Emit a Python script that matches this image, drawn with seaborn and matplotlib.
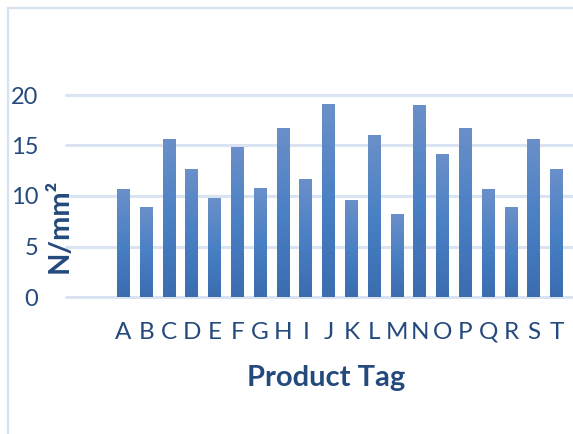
import numpy as np
import matplotlib
matplotlib.use("Agg")
import matplotlib.pyplot as plt
from matplotlib.colors import LinearSegmentedColormap
from matplotlib.patches import Rectangle
import seaborn as sns
import pandas as pd

# Strength per product tag
tags = ["A", "B", "C", "D", "E", "F", "G", "H", "I", "J",
        "K", "L", "M", "N", "O", "P", "Q", "R", "S", "T"]
strength = [10.7, 8.9, 15.6, 12.7, 9.8, 14.9, 10.8, 16.7, 11.7, 19.1,
            9.6, 16.0, 8.2, 19.0, 14.2, 16.7, 10.7, 8.9, 15.6, 12.7]
y_ticks = [0, 5, 10, 15, 20]

TEXT = "#24497c"
GRID = "#d9e3f2"

sns.set_theme(style="white")
plt.rcParams["font.family"] = ["Lato", "DejaVu Sans"]

W, H = 573, 434
fig = plt.figure(figsize=(W / 100, H / 100), dpi=100)

# plot area in pixel terms: left 66, right 573, top 95, bottom 297
ax = fig.add_axes([66 / W, 1 - 297 / H, (W - 66) / W, (297 - 95) / H])

df = pd.DataFrame({"tag": tags, "strength": strength})
sns.barplot(data=df, x="tag", y="strength", color="#4a80c4", width=0.56,
            ax=ax, zorder=3)

slot = 22.8  # px per category
xlim = (-(123.5 - 66) / slot, 19 + (573 - 556.5) / slot)

# vertical gradient inside each bar
cmap = LinearSegmentedColormap.from_list(
    "bar", ["#3b6cb0", "#4a80c4", "#6b90c9"])
grad = np.linspace(0, 1, 256).reshape(-1, 1)
for p in list(ax.patches):
    x0, y0 = p.get_x(), p.get_y()
    w, h = p.get_width(), p.get_height()
    im = ax.imshow(grad, cmap=cmap, origin="lower", aspect="auto",
                   extent=[x0, x0 + w, y0, y0 + h], zorder=3,
                   interpolation="bilinear")
    im.set_clip_path(p)
    p.set_facecolor("none")
    p.set_edgecolor("none")
ax.set_xlim(*xlim)
ax.set_ylim(0, 20)

# horizontal gridlines
for t in y_ticks:
    ax.axhline(t, color=GRID, lw=2.2, zorder=1, clip_on=False)

ax.set_yticks(y_ticks)
ax.set_yticklabels([str(t) for t in y_ticks])
for s in ax.spines.values():
    s.set_visible(False)
ax.tick_params(axis="y", length=0, pad=20, labelsize=17, labelcolor=TEXT)
ax.tick_params(axis="x", length=0, pad=18, labelsize=17.5, labelcolor=TEXT)
ax.set_xlabel("")
ax.set_ylabel("")
ax.grid(False)

fig.text(60 / W, 1 - 226 / H, "N/mm²", rotation=90, ha="center",
         va="center", fontsize=21, fontweight="bold", color=TEXT)
fig.text(326 / W, 1 - 378 / H, "Product Tag", ha="center", va="center",
         fontsize=21, fontweight="bold", color=TEXT)

# chart area border
fig.patches.append(Rectangle((8 / W, -0.1), 1.2, 1 - 8 / H + 0.1,
                             transform=fig.transFigure, fill=False,
                             edgecolor="#d6e1f1", lw=1.6))

fig.savefig("out.png", dpi=100)
